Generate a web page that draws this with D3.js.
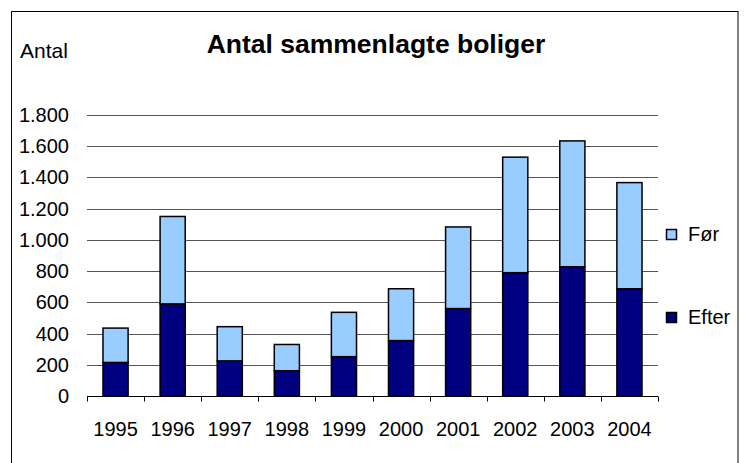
<!DOCTYPE html>
<html><head><meta charset="utf-8">
<script src="https://cdn.jsdelivr.net/npm/d3@7"></script>
<style>body{margin:0;background:#fff}svg{display:block}text{font-family:"Liberation Sans",Arial,sans-serif}</style>
</head><body><svg id="c" width="748" height="463"></svg>
<script>
const years = ["1995","1996","1997","1998","1999","2000","2001","2002","2003","2004"];
const efter = [215, 590, 225, 162, 252, 355, 560, 790, 828, 687];
const foer  = [220, 560, 219, 168, 284, 332, 523, 740, 806, 680];
const yTicks = [0,200,400,600,800,1000,1200,1400,1600,1800];
const seriesNames = ["Efter","Før"];
const colors = {"Efter":"#000080","Før":"#99ccff"};

const svg = d3.select("#c");
svg.append("rect").attr("x",11.5).attr("y",11.5).attr("width",726.5).attr("height",460)
  .attr("fill","none").attr("stroke","#000").attr("stroke-width",1);

const x = d3.scaleBand().domain(years).range([87,658]).paddingInner(0.56).paddingOuter(0.28);
const y = d3.scaleLinear().domain([0,1800]).range([396,115]);

// gridlines
svg.append("g").selectAll("line").data(yTicks.filter(d=>d>0)).join("line")
  .attr("x1",87).attr("x2",658).attr("y1",d=>Math.round(y(d))+0.5).attr("y2",d=>Math.round(y(d))+0.5)
  .attr("stroke","#555").attr("stroke-width",1);

// y labels
const fmt = d => d3.format(",")(d).replace(/,/g,".");
svg.append("g").selectAll("text").data(yTicks).join("text")
  .attr("x",69).attr("y",d=>y(d)+7).attr("text-anchor","end").attr("font-size",20).text(fmt);

// stacked bars
const data = years.map((yr,i)=>({year:yr, "Efter":efter[i], "Før":foer[i]}));
const stack = d3.stack().keys(seriesNames)(data);
svg.append("g").selectAll("g").data(stack).join("g").attr("fill",s=>colors[s.key])
  .selectAll("rect").data(s=>s).join("rect")
  .attr("x",d=>x(d.data.year)).attr("width",x.bandwidth())
  .attr("y",d=>y(d[1])).attr("height",d=>y(d[0])-y(d[1]))
  .attr("stroke","#000").attr("stroke-width",1.5);

// x axis
const gx = svg.append("g").attr("transform","translate(0,396.5)");
gx.append("line").attr("x1",87).attr("x2",658).attr("stroke","#000");
const bounds = d3.range(years.length+1).map(i=>87+i*(571/years.length));
gx.selectAll("line.t").data(bounds).join("line").attr("class","t")
  .attr("x1",d=>Math.round(d)+0.5).attr("x2",d=>Math.round(d)+0.5).attr("y1",0).attr("y2",5).attr("stroke","#000");
gx.selectAll("text.l").data(years).join("text").attr("class","l")
  .attr("x",d=>x(d)+x.bandwidth()/2).attr("y",39.5).attr("text-anchor","middle").attr("font-size",20).text(d=>d);

// titles
svg.append("text").attr("x",376).attr("y",52.5).attr("text-anchor","middle").attr("font-size",26.5)
  .attr("font-weight","bold").text("Antal sammenlagte boliger");
svg.append("text").attr("x",20).attr("y",58).attr("font-size",21).text("Antal");

// legend
const leg = [{k:"Før",y:229},{k:"Efter",y:312}];
const lg = svg.append("g").selectAll("g").data(leg).join("g").attr("transform",d=>`translate(666,${d.y})`);
lg.append("rect").attr("x",0.5).attr("y",0.5).attr("width",10).attr("height",10)
  .attr("fill",d=>colors[d.k]).attr("stroke","#000").attr("stroke-width",1.5);
lg.append("text").attr("x",22).attr("y",11.5).attr("font-size",20).text(d=>d.k);
</script></body></html>
